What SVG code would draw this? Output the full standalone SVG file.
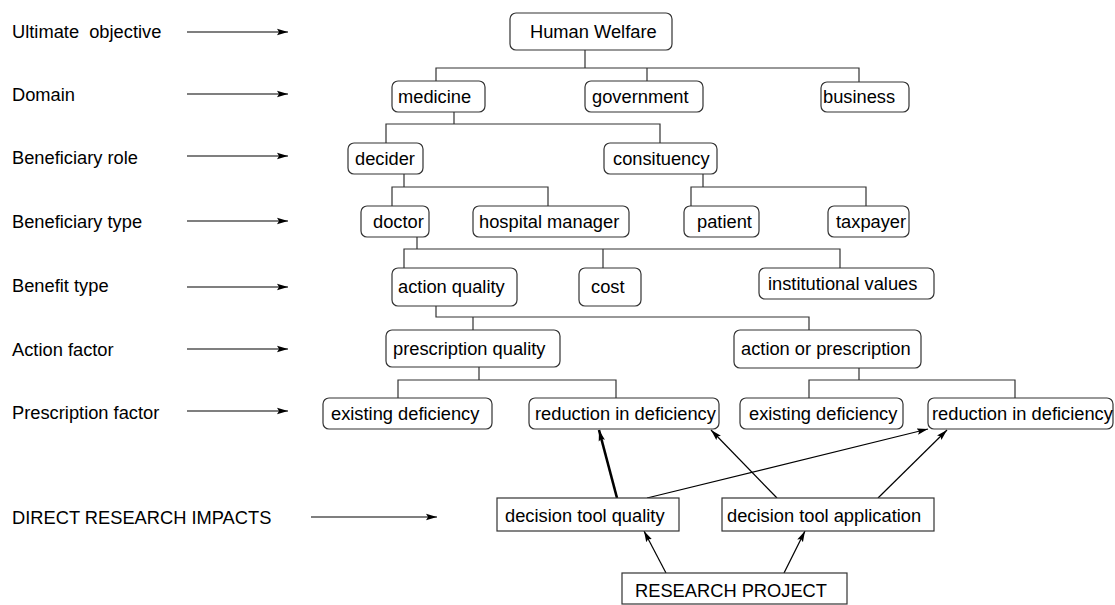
<svg xmlns="http://www.w3.org/2000/svg" width="1115" height="605" viewBox="0 0 1115 605">
<defs>
<marker id="ah" markerUnits="userSpaceOnUse" markerWidth="12" markerHeight="8" refX="11" refY="4" orient="auto">
<path d="M0,0.8 L11,4 L0,7.2 L2,4 z" fill="#000"/>
</marker>
<style>
.t{font-family:"Liberation Sans",Arial,sans-serif;font-size:18.3px;fill:#000}
.n{fill:#fff;stroke:#333;stroke-width:1.2}
.c{fill:none;stroke:#333;stroke-width:1.2}
.a{fill:none;stroke:#000;stroke-width:1.2;marker-end:url(#ah)}
.ab{fill:none;stroke:#000;stroke-width:2.6;marker-end:url(#ah)}
</style>
</defs>
<rect width="1115" height="605" fill="#fff"/>

<g id="level-labels">
<text class="t" x="12" y="38">Ultimate&#160; objective</text>
<text class="t" x="12" y="101">Domain</text>
<text class="t" x="12" y="164">Beneficiary role</text>
<text class="t" x="12" y="228">Beneficiary type</text>
<text class="t" x="12" y="292">Benefit type</text>
<text class="t" x="12" y="356">Action factor</text>
<text class="t" x="12" y="419">Prescription factor</text>
<text class="t" x="12" y="524">DIRECT RESEARCH IMPACTS</text>
</g>

<g id="connectors">
<line class="a" x1="187" y1="32" x2="288" y2="32"/>
<line class="a" x1="187" y1="94" x2="288" y2="94"/>
<line class="a" x1="187" y1="156" x2="288" y2="156"/>
<line class="a" x1="187" y1="221" x2="288" y2="221"/>
<line class="a" x1="187" y1="287" x2="288" y2="287"/>
<line class="a" x1="187" y1="349" x2="288" y2="349"/>
<line class="a" x1="187" y1="411" x2="288" y2="411"/>
<line class="a" x1="311" y1="517" x2="437" y2="517"/>

<path class="c" d="M585,50 V68 M436,81 V68 H859 V82 M647,68 V81"/>
<path class="c" d="M454,112 V124 M386,143 V124 H660 V143"/>
<path class="c" d="M404,174 V187 M392,206 V187 H548 V206"/>
<path class="c" d="M703,174 V187 M691,206 V187 H866 V206"/>
<path class="c" d="M417,237 V249 M404,268 V249 H840 V268 M603,249 V268"/>
<path class="c" d="M436,306 V317 H809 V330 M473,317 V330"/>
<path class="c" d="M479,367 V380 M398,398 V380 H616 V398"/>
<path class="c" d="M859,368 V380 M809,398 V380 H1015 V398"/>

<line class="ab" x1="617" y1="498" x2="599" y2="430"/>
<line class="a" x1="647" y1="498" x2="928" y2="429"/>
<line class="a" x1="777" y1="498" x2="711" y2="430"/>
<line class="a" x1="878" y1="498" x2="947" y2="430"/>
<line class="a" x1="666" y1="573" x2="644" y2="531"/>
<line class="a" x1="784" y1="573" x2="805" y2="531"/>
</g>

<g id="human-welfare"><rect class="n" x="510" y="13" width="162" height="37" rx="6"/><text class="t" x="530" y="38">Human Welfare</text></g>
<g id="medicine"><rect class="n" x="392" y="81" width="93" height="31" rx="6"/><text class="t" x="398" y="103">medicine</text></g>
<g id="government"><rect class="n" x="585" y="81" width="118" height="31" rx="6"/><text class="t" x="592" y="103">government</text></g>
<g id="business"><rect class="n" x="821" y="82" width="88" height="30" rx="6"/><text class="t" x="823" y="103">business</text></g>
<g id="decider"><rect class="n" x="348" y="143" width="75" height="31" rx="6"/><text class="t" x="355" y="165">decider</text></g>
<g id="consituency"><rect class="n" x="604" y="143" width="113" height="31" rx="6"/><text class="t" x="613" y="165">consituency</text></g>
<g id="doctor"><rect class="n" x="361" y="206" width="68" height="31" rx="6"/><text class="t" x="373" y="228">doctor</text></g>
<g id="hospital-manager"><rect class="n" x="473" y="206" width="156" height="31" rx="6"/><text class="t" x="479" y="228">hospital manager</text></g>
<g id="patient"><rect class="n" x="684" y="206" width="75" height="31" rx="6"/><text class="t" x="697" y="228">patient</text></g>
<g id="taxpayer"><rect class="n" x="828" y="206" width="81" height="31" rx="6"/><text class="t" x="836" y="228">taxpayer</text></g>
<g id="action-quality"><rect class="n" x="392" y="268" width="125" height="38" rx="6"/><text class="t" x="398" y="293">action quality</text></g>
<g id="cost"><rect class="n" x="579" y="268" width="62" height="38" rx="6"/><text class="t" x="591" y="293">cost</text></g>
<g id="institutional-values"><rect class="n" x="759" y="268" width="175" height="31" rx="6"/><text class="t" x="768" y="290">institutional values</text></g>
<g id="prescription-quality"><rect class="n" x="386" y="330" width="174" height="37" rx="6"/><text class="t" x="393" y="355">prescription quality</text></g>
<g id="action-or-prescription"><rect class="n" x="734" y="330" width="187" height="38" rx="6"/><text class="t" x="741" y="355">action or prescription</text></g>
<g id="existing-deficiency-1"><rect class="n" x="323" y="398" width="169" height="31" rx="6"/><text class="t" x="331" y="420">existing deficiency</text></g>
<g id="reduction-in-deficiency-1"><rect class="n" x="529" y="398" width="190" height="31" rx="6"/><text class="t" x="535" y="420">reduction in deficiency</text></g>
<g id="existing-deficiency-2"><rect class="n" x="740" y="398" width="163" height="31" rx="6"/><text class="t" x="749" y="420">existing deficiency</text></g>
<g id="reduction-in-deficiency-2"><rect class="n" x="928" y="398" width="185" height="31" rx="6"/><text class="t" x="932" y="420">reduction in deficiency</text></g>
<g id="decision-tool-quality"><rect class="n" x="497" y="498" width="182" height="33" rx="0"/><text class="t" x="505" y="522">decision tool quality</text></g>
<g id="decision-tool-application"><rect class="n" x="722" y="498" width="212" height="33" rx="0"/><text class="t" x="727" y="522">decision tool application</text></g>
<g id="research-project"><rect class="n" x="622" y="573" width="225" height="31" rx="0"/><text class="t" x="635" y="597">RESEARCH PROJECT</text></g>
</svg>
